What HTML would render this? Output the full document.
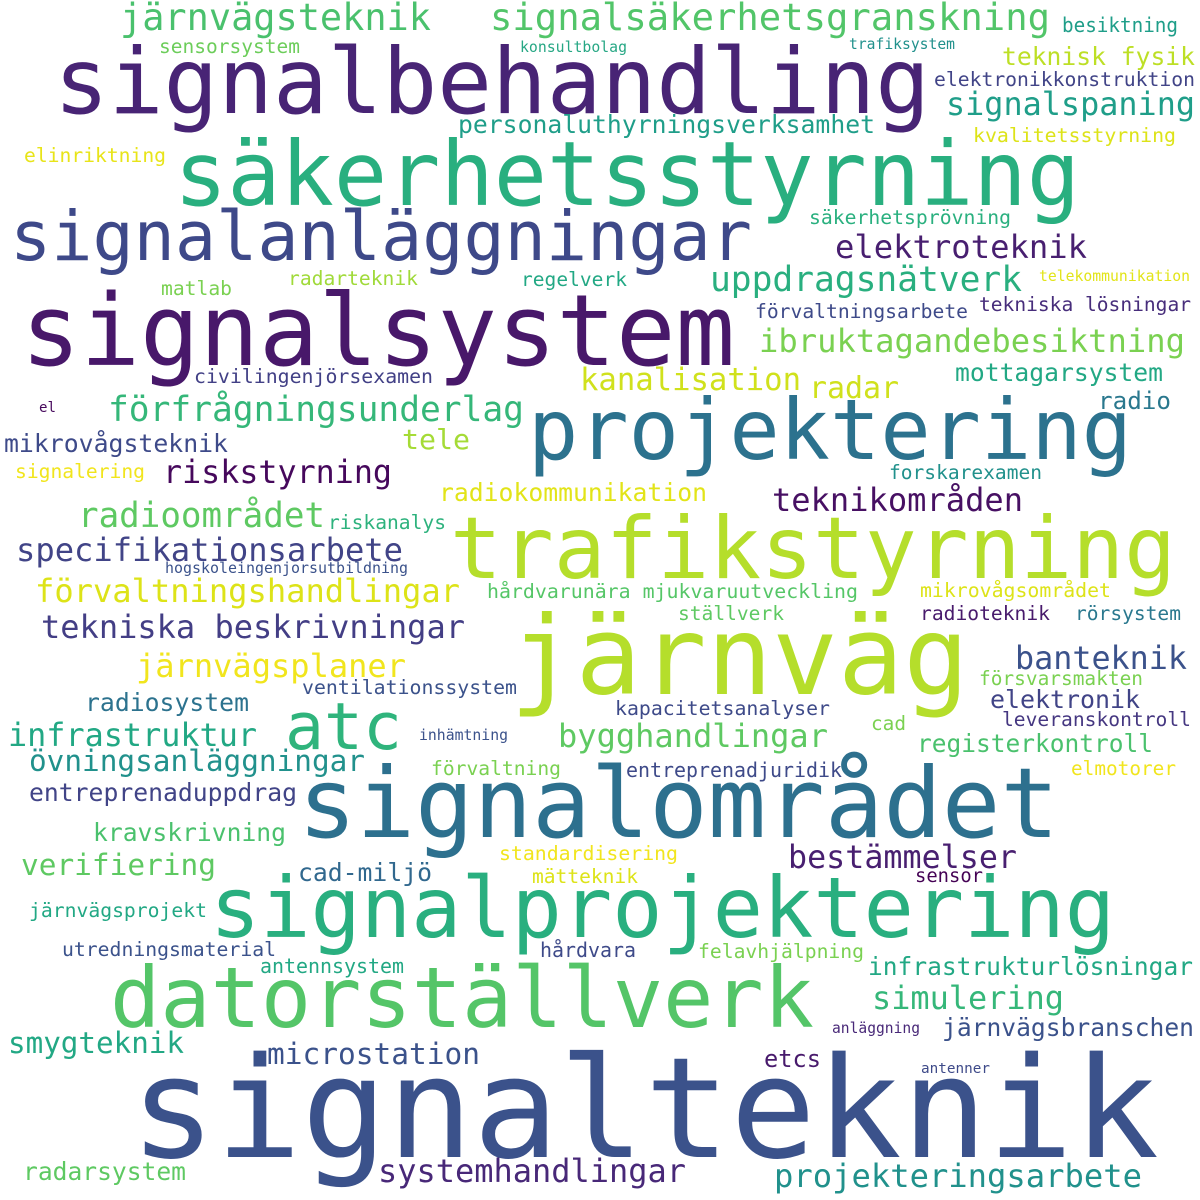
<!DOCTYPE html>
<html><head><meta charset="utf-8"><style>
html,body{margin:0;padding:0;background:#fff;}
svg{display:block;}
text{font-family:"DejaVu Sans Mono","Liberation Mono",monospace;}
</style></head><body>
<svg width="1200" height="1200" viewBox="0 0 1200 1200" xmlns="http://www.w3.org/2000/svg">
<rect width="1200" height="1200" fill="#fff"/>
<g lengthAdjust="spacingAndGlyphs">
<text x="120" y="30" font-size="37" fill="#4ac16d" textLength="311" lengthAdjust="spacingAndGlyphs">järnvägsteknik</text>
<text x="490" y="30" font-size="37" fill="#52c569" textLength="560" lengthAdjust="spacingAndGlyphs">signalsäkerhetsgranskning</text>
<text x="1062" y="32" font-size="20" fill="#1f9e89" textLength="116" lengthAdjust="spacingAndGlyphs">besiktning</text>
<text x="159" y="53" font-size="19.6" fill="#6ccd5a" textLength="141" lengthAdjust="spacingAndGlyphs">sensorsystem</text>
<text x="520" y="52" font-size="14.8" fill="#26a784" textLength="107" lengthAdjust="spacingAndGlyphs">konsultbolag</text>
<text x="849" y="49" font-size="14.8" fill="#21918c" textLength="106" lengthAdjust="spacingAndGlyphs">trafiksystem</text>
<text x="54" y="113" font-size="91" fill="#482475" textLength="876" lengthAdjust="spacingAndGlyphs">signalbehandling</text>
<text x="1002" y="65" font-size="24.8" fill="#bddf26" textLength="193" lengthAdjust="spacingAndGlyphs">teknisk fysik</text>
<text x="934" y="86" font-size="19.8" fill="#414487" textLength="261" lengthAdjust="spacingAndGlyphs">elektronikkonstruktion</text>
<text x="946" y="115" font-size="32" fill="#1f9e89" textLength="249" lengthAdjust="spacingAndGlyphs">signalspaning</text>
<text x="458" y="133" font-size="24.8" fill="#1f9e89" textLength="417" lengthAdjust="spacingAndGlyphs">personaluthyrningsverksamhet</text>
<text x="973" y="142" font-size="19.9" fill="#dde318" textLength="203" lengthAdjust="spacingAndGlyphs">kvalitetsstyrning</text>
<text x="24" y="162" font-size="19.7" fill="#e8e419" textLength="142" lengthAdjust="spacingAndGlyphs">elinriktning</text>
<text x="174" y="205" font-size="89" fill="#29af7f" textLength="906" lengthAdjust="spacingAndGlyphs">säkerhetsstyrning</text>
<text x="809" y="224" font-size="19.8" fill="#2ab07f" textLength="202" lengthAdjust="spacingAndGlyphs">säkerhetsprövning</text>
<text x="10" y="260" font-size="69" fill="#3e4989" textLength="742" lengthAdjust="spacingAndGlyphs">signalanläggningar</text>
<text x="835" y="258" font-size="32" fill="#481f70" textLength="252" lengthAdjust="spacingAndGlyphs">elektroteknik</text>
<text x="1039" y="281" font-size="14.8" fill="#e2e418" textLength="151" lengthAdjust="spacingAndGlyphs">telekommunikation</text>
<text x="288" y="285" font-size="19.7" fill="#a0da39" textLength="130" lengthAdjust="spacingAndGlyphs">radarteknik</text>
<text x="161" y="295" font-size="19.7" fill="#7ad151" textLength="71" lengthAdjust="spacingAndGlyphs">matlab</text>
<text x="521" y="286" font-size="19.6" fill="#22a884" textLength="106" lengthAdjust="spacingAndGlyphs">regelverk</text>
<text x="710" y="291" font-size="34.7" fill="#29af7f" textLength="312" lengthAdjust="spacingAndGlyphs">uppdragsnätverk</text>
<text x="755" y="318" font-size="19.8" fill="#3e4a89" textLength="213" lengthAdjust="spacingAndGlyphs">förvaltningsarbete</text>
<text x="979" y="311" font-size="19.7" fill="#472d7b" textLength="212" lengthAdjust="spacingAndGlyphs">tekniska lösningar</text>
<text x="21" y="365" font-size="99" fill="#48186a" textLength="714" lengthAdjust="spacingAndGlyphs">signalsystem</text>
<text x="759" y="352" font-size="32.3" fill="#7ad151" textLength="426" lengthAdjust="spacingAndGlyphs">ibruktagandebesiktning</text>
<text x="194" y="383" font-size="19.9" fill="#424086" textLength="239" lengthAdjust="spacingAndGlyphs">civilingenjörsexamen</text>
<text x="955" y="381" font-size="24.8" fill="#22a884" textLength="208" lengthAdjust="spacingAndGlyphs">mottagarsystem</text>
<text x="580" y="390" font-size="30.7" fill="#d0e11c" textLength="221" lengthAdjust="spacingAndGlyphs">kanalisation</text>
<text x="809" y="398" font-size="30" fill="#d0e11c" textLength="90" lengthAdjust="spacingAndGlyphs">radar</text>
<text x="1098" y="409" font-size="24.3" fill="#2a788e" textLength="73" lengthAdjust="spacingAndGlyphs">radio</text>
<text x="39" y="412" font-size="14" fill="#46085c" textLength="17" lengthAdjust="spacingAndGlyphs">el</text>
<text x="108" y="421" font-size="34.7" fill="#35b779" textLength="416" lengthAdjust="spacingAndGlyphs">förfrågningsunderlag</text>
<text x="528" y="459" font-size="84" fill="#2c728e" textLength="604" lengthAdjust="spacingAndGlyphs">projektering</text>
<text x="4" y="452" font-size="24.9" fill="#3e4a89" textLength="224" lengthAdjust="spacingAndGlyphs">mikrovågsteknik</text>
<text x="402" y="449" font-size="28" fill="#a5db36" textLength="68" lengthAdjust="spacingAndGlyphs">tele</text>
<text x="15" y="478" font-size="19.7" fill="#f1e51d" textLength="130" lengthAdjust="spacingAndGlyphs">signalering</text>
<text x="163" y="483" font-size="31.8" fill="#46085c" textLength="229" lengthAdjust="spacingAndGlyphs">riskstyrning</text>
<text x="889" y="479" font-size="19.6" fill="#21918c" textLength="153" lengthAdjust="spacingAndGlyphs">forskarexamen</text>
<text x="439" y="501" font-size="24.8" fill="#e2e418" textLength="268" lengthAdjust="spacingAndGlyphs">radiokommunikation</text>
<text x="772" y="511" font-size="32" fill="#471063" textLength="251" lengthAdjust="spacingAndGlyphs">teknikområden</text>
<text x="78" y="527" font-size="34.3" fill="#5ec962" textLength="247" lengthAdjust="spacingAndGlyphs">radioområdet</text>
<text x="328" y="529" font-size="19.7" fill="#2db27d" textLength="118" lengthAdjust="spacingAndGlyphs">riskanalys</text>
<text x="450" y="578" font-size="86" fill="#b5de2b" textLength="726" lengthAdjust="spacingAndGlyphs">trafikstyrning</text>
<text x="16" y="561" font-size="32.2" fill="#414487" textLength="387" lengthAdjust="spacingAndGlyphs">specifikationsarbete</text>
<text x="165" y="573" font-size="15" fill="#3b528b" textLength="243" lengthAdjust="spacingAndGlyphs">hogskoleingenjorsutbildning</text>
<text x="35" y="602" font-size="32.2" fill="#dde318" textLength="425" lengthAdjust="spacingAndGlyphs">förvaltningshandlingar</text>
<text x="487" y="598" font-size="19.9" fill="#55c667" textLength="371" lengthAdjust="spacingAndGlyphs">hårdvarunära mjukvaruutveckling</text>
<text x="920" y="597" font-size="19.9" fill="#dde318" textLength="191" lengthAdjust="spacingAndGlyphs">mikrovågsområdet</text>
<text x="678" y="620" font-size="19.6" fill="#5ec962" textLength="106" lengthAdjust="spacingAndGlyphs">ställverk</text>
<text x="920" y="620" font-size="19.7" fill="#481a6c" textLength="130" lengthAdjust="spacingAndGlyphs">radioteknik</text>
<text x="1075" y="620" font-size="19.7" fill="#2a788e" textLength="106" lengthAdjust="spacingAndGlyphs">rörsystem</text>
<text x="41" y="638" font-size="32" fill="#433e85" textLength="424" lengthAdjust="spacingAndGlyphs">tekniska beskrivningar</text>
<text x="510" y="694" font-size="109" fill="#b5de2b" textLength="459" lengthAdjust="spacingAndGlyphs">järnväg</text>
<text x="1015" y="669" font-size="31.9" fill="#3b528b" textLength="172" lengthAdjust="spacingAndGlyphs">banteknik</text>
<text x="136" y="677" font-size="32" fill="#f1e51d" textLength="270" lengthAdjust="spacingAndGlyphs">järnvägsplaner</text>
<text x="979" y="685" font-size="19.6" fill="#7ad151" textLength="164" lengthAdjust="spacingAndGlyphs">försvarsmakten</text>
<text x="302" y="694" font-size="19.9" fill="#3b528b" textLength="215" lengthAdjust="spacingAndGlyphs">ventilationssystem</text>
<text x="85" y="711" font-size="24.8" fill="#2c728e" textLength="164" lengthAdjust="spacingAndGlyphs">radiosystem</text>
<text x="990" y="708" font-size="25" fill="#414487" textLength="150" lengthAdjust="spacingAndGlyphs">elektronik</text>
<text x="615" y="715" font-size="19.9" fill="#3e4a89" textLength="215" lengthAdjust="spacingAndGlyphs">kapacitetsanalyser</text>
<text x="1002" y="726" font-size="19.7" fill="#453781" textLength="189" lengthAdjust="spacingAndGlyphs">leveranskontroll</text>
<text x="871" y="730" font-size="19.6" fill="#7ad151" textLength="35" lengthAdjust="spacingAndGlyphs">cad</text>
<text x="285" y="749" font-size="65" fill="#2fb47c" textLength="117" lengthAdjust="spacingAndGlyphs">atc</text>
<text x="8" y="746" font-size="32" fill="#22a884" textLength="249" lengthAdjust="spacingAndGlyphs">infrastruktur</text>
<text x="419" y="740" font-size="14.8" fill="#3b528b" textLength="89" lengthAdjust="spacingAndGlyphs">inhämtning</text>
<text x="558" y="747" font-size="32" fill="#5ec962" textLength="270" lengthAdjust="spacingAndGlyphs">bygghandlingar</text>
<text x="917" y="752" font-size="24.6" fill="#4ac16d" textLength="236" lengthAdjust="spacingAndGlyphs">registerkontroll</text>
<text x="29" y="771" font-size="29.5" fill="#21918c" textLength="336" lengthAdjust="spacingAndGlyphs">övningsanläggningar</text>
<text x="431" y="775" font-size="19.7" fill="#7ad151" textLength="130" lengthAdjust="spacingAndGlyphs">förvaltning</text>
<text x="626" y="777" font-size="20" fill="#3e4a89" textLength="216" lengthAdjust="spacingAndGlyphs">entreprenadjuridik</text>
<text x="1071" y="775" font-size="19.5" fill="#f1e51d" textLength="105" lengthAdjust="spacingAndGlyphs">elmotorer</text>
<text x="29" y="801" font-size="24.8" fill="#414487" textLength="268" lengthAdjust="spacingAndGlyphs">entreprenaduppdrag</text>
<text x="298" y="837" font-size="97.6" fill="#2d708e" textLength="761" lengthAdjust="spacingAndGlyphs">signalområdet</text>
<text x="93" y="841" font-size="24.8" fill="#4ac16d" textLength="193" lengthAdjust="spacingAndGlyphs">kravskrivning</text>
<text x="499" y="860" font-size="19.9" fill="#f1e51d" textLength="179" lengthAdjust="spacingAndGlyphs">standardisering</text>
<text x="788" y="868" font-size="31.8" fill="#481f70" textLength="229" lengthAdjust="spacingAndGlyphs">bestämmelser</text>
<text x="21" y="875" font-size="29.6" fill="#5ec962" textLength="195" lengthAdjust="spacingAndGlyphs">verifiering</text>
<text x="298" y="881" font-size="24.8" fill="#31688e" textLength="134" lengthAdjust="spacingAndGlyphs">cad-miljö</text>
<text x="532" y="883" font-size="19.7" fill="#dde318" textLength="106" lengthAdjust="spacingAndGlyphs">mätteknik</text>
<text x="915" y="882" font-size="19" fill="#440154" textLength="68" lengthAdjust="spacingAndGlyphs">sensor</text>
<text x="210" y="937" font-size="84" fill="#29af7f" textLength="905" lengthAdjust="spacingAndGlyphs">signalprojektering</text>
<text x="29" y="917" font-size="19.8" fill="#22a884" textLength="178" lengthAdjust="spacingAndGlyphs">järnvägsprojekt</text>
<text x="62" y="956" font-size="19.8" fill="#3b528b" textLength="214" lengthAdjust="spacingAndGlyphs">utredningsmaterial</text>
<text x="540" y="957" font-size="20" fill="#3e4a89" textLength="96" lengthAdjust="spacingAndGlyphs">hårdvara</text>
<text x="698" y="958" font-size="19.8" fill="#7ad151" textLength="166" lengthAdjust="spacingAndGlyphs">felavhjälpning</text>
<text x="260" y="973" font-size="20" fill="#22a884" textLength="144" lengthAdjust="spacingAndGlyphs">antennsystem</text>
<text x="868" y="975" font-size="24.6" fill="#22a884" textLength="325" lengthAdjust="spacingAndGlyphs">infrastrukturlösningar</text>
<text x="110" y="1027" font-size="84" fill="#54c568" textLength="704" lengthAdjust="spacingAndGlyphs">datorställverk</text>
<text x="872" y="1009" font-size="32" fill="#35b779" textLength="192" lengthAdjust="spacingAndGlyphs">simulering</text>
<text x="942" y="1036" font-size="24.7" fill="#3b528b" textLength="252" lengthAdjust="spacingAndGlyphs">järnvägsbranschen</text>
<text x="832" y="1033" font-size="14.7" fill="#482878" textLength="88" lengthAdjust="spacingAndGlyphs">anläggning</text>
<text x="8" y="1053" font-size="29.4" fill="#22a884" textLength="176" lengthAdjust="spacingAndGlyphs">smygteknik</text>
<text x="267" y="1064" font-size="29.6" fill="#3b528b" textLength="213" lengthAdjust="spacingAndGlyphs">microstation</text>
<text x="764" y="1067" font-size="24" fill="#481a6c" textLength="57" lengthAdjust="spacingAndGlyphs">etcs</text>
<text x="921" y="1073" font-size="14.4" fill="#3e4a89" textLength="69" lengthAdjust="spacingAndGlyphs">antenner</text>
<text x="130" y="1157" font-size="140" fill="#3b528b" textLength="1029" lengthAdjust="spacingAndGlyphs">signalteknik</text>
<text x="23" y="1180" font-size="24.7" fill="#5ec962" textLength="163" lengthAdjust="spacingAndGlyphs">radarsystem</text>
<text x="378" y="1182" font-size="32" fill="#482878" textLength="308" lengthAdjust="spacingAndGlyphs">systemhandlingar</text>
<text x="774" y="1187" font-size="32.3" fill="#21918c" textLength="368" lengthAdjust="spacingAndGlyphs">projekteringsarbete</text>
</g>
</svg>
</body></html>
